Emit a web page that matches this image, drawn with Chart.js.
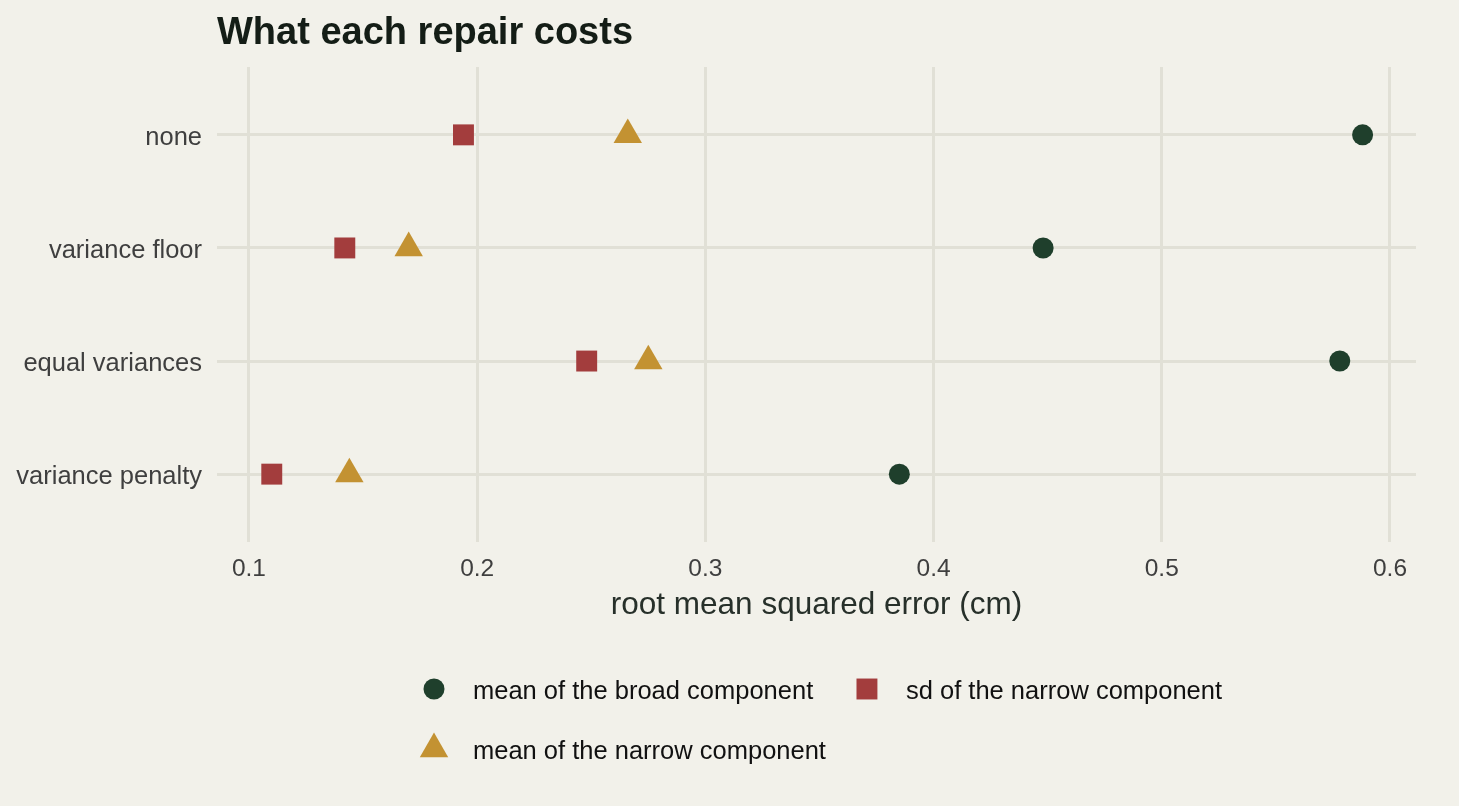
<!DOCTYPE html>
<html>
<head>
<meta charset="utf-8">
<title>What each repair costs</title>
<script src="https://cdn.jsdelivr.net/npm/chart.js@4.4.1/dist/chart.umd.min.js"></script>
<style>
  html, body { margin: 0; padding: 0; background: #f2f1ea; }
  #wrap { width: 1459px; height: 806px; position: relative; }
</style>
</head>
<body>
<div id="wrap"><canvas id="chart"></canvas></div>
<script>
// values
const categories = ['none', 'variance floor', 'equal variances', 'variance penalty'];
const broadMean = [0.588, 0.448, 0.578, 0.385];
const narrowSd = [0.194, 0.142, 0.248, 0.110];
const narrowMean = [0.266, 0.170, 0.275, 0.144];
const xTicks = [0.1, 0.2, 0.3, 0.4, 0.5, 0.6];
const seriesLabels = ['mean of the broad component', 'sd of the narrow component', 'mean of the narrow component'];

const BG = '#f2f1ea';
const GRID = '#e1e0d6';
const FONT = '"Liberation Sans", Arial, Helvetica, sans-serif';

const toPoints = vals => vals.map((v, i) => ({ x: v, y: i + 1 }));

function series(label, values, color, style, radius) {
    return {
        label: label,
        data: toPoints(values),
        pointStyle: style,
        pointRadius: radius,
        pointHoverRadius: radius,
        backgroundColor: color,
        borderColor: color,
        borderWidth: 0,
        showLine: false
    };
}

const datasets = [
    series(seriesLabels[0], broadMean, '#1f3f2c', 'circle', 10.5),
    series(seriesLabels[1], narrowSd, '#a33d3d', 'rect', 14.8),
    series(seriesLabels[2], narrowMean, '#c39232', 'triangle', 16.4)
];

const background = {
    id: 'background',
    beforeDraw(chart) {
        const ctx = chart.ctx;
        ctx.save();
        ctx.fillStyle = BG;
        ctx.fillRect(0, 0, chart.width, chart.height);
        ctx.restore();
    }
};

const titleLeft = {
    id: 'titleLeft',
    afterDraw(chart) {
        const ctx = chart.ctx;
        ctx.save();
        ctx.font = 'bold 38px ' + FONT;
        ctx.fillStyle = '#141d16';
        ctx.textAlign = 'left';
        ctx.textBaseline = 'alphabetic';
        ctx.fillText('What each repair costs', chart.chartArea.left, 44);
        ctx.restore();
    }
};

// ggplot-like legend: two columns, filled row by row, under the axis title
const bottomLegend = {
    id: 'bottomLegend',
    afterDraw(chart) {
        const ctx = chart.ctx;
        const area = chart.chartArea;
        const sets = chart.data.datasets;
        ctx.save();
        ctx.font = '25.5px ' + FONT;
        const keyW = 28, keyGap = 25, colGap = 27;
        const cols = 2;
        const colW = [0, 0];
        sets.forEach((ds, i) => {
            const w = keyW + keyGap + ctx.measureText(ds.label).width;
            colW[i % cols] = Math.max(colW[i % cols], w);
        });
        const x0 = area.left + 203;
        const rowY = [689, 749];
        sets.forEach((ds, i) => {
            const c = i % cols, r = Math.floor(i / cols);
            const kx = x0 + (c === 0 ? 0 : colW[0] + colGap) + keyW / 2;
            const ky = rowY[r];
            ctx.fillStyle = ds.backgroundColor;
            ctx.strokeStyle = ds.backgroundColor;
            ctx.lineWidth = 0;
            Chart.helpers.drawPoint(ctx, {
                pointStyle: ds.pointStyle,
                radius: ds.pointRadius,
                rotation: 0,
                borderWidth: 0
            }, kx, ky);
            ctx.fillStyle = '#111111';
            ctx.textAlign = 'left';
            ctx.textBaseline = 'middle';
            ctx.fillText(ds.label, kx + keyW / 2 + keyGap, ky + 3);
        });
        ctx.restore();
    }
};

new Chart(document.getElementById('chart'), {
    type: 'scatter',
    data: { datasets: datasets },
    options: {
        responsive: true,
        maintainAspectRatio: false,
        animation: false,
        devicePixelRatio: 1,
        layout: { padding: { top: 67, right: 43, bottom: 164, left: 0 } },
        plugins: {
            legend: { display: false },
            tooltip: { enabled: false },
            title: { display: false }
        },
        scales: {
            x: {
                type: 'linear',
                min: 0.086,
                max: 0.6114,
                afterBuildTicks: scale => { scale.ticks = xTicks.map(v => ({ value: v })); },
                afterFit: scale => { scale.height = 100; },
                grid: { color: GRID, lineWidth: 3, drawTicks: false },
                border: { display: false },
                ticks: {
                    padding: 13,
                    color: '#3f3f3f',
                    font: { family: FONT, size: 24.5 },
                    callback: v => String(Math.round(v * 10) / 10)
                },
                title: {
                    display: true,
                    text: 'root mean squared error (cm)',
                    color: '#27302a',
                    font: { family: FONT, size: 31.5 },
                    padding: { top: 0, bottom: 18 }
                }
            },
            y: {
                type: 'linear',
                reverse: true,
                min: 0.4,
                max: categories.length + 0.6,
                afterBuildTicks: scale => { scale.ticks = categories.map((c, i) => ({ value: i + 1 })); },
                afterFit: scale => { scale.width = 217; },
                grid: { color: GRID, lineWidth: 3, drawTicks: false },
                border: { display: false },
                ticks: {
                    padding: 15,
                    labelOffset: 3,
                    color: '#3f3f3f',
                    font: { family: FONT, size: 25.5 },
                    callback: v => categories[Math.round(v) - 1]
                }
            }
        }
    },
    plugins: [background, titleLeft, bottomLegend]
});
</script>
</body>
</html>
